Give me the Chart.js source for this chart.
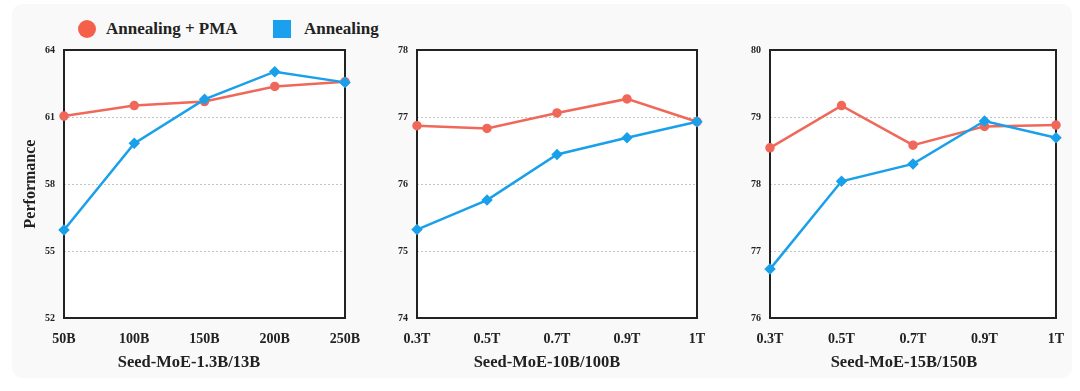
<!DOCTYPE html>
<html><head><meta charset="utf-8">
<script src="https://cdn.jsdelivr.net/npm/chart.js@4.4.1/dist/chart.umd.min.js"></script>
<style>
body{margin:0;width:1080px;height:391px;background:#fff;position:relative;overflow:hidden;font-family:"Liberation Serif",serif;}
.card{position:absolute;left:12px;top:4px;width:1060px;height:374px;background:#f9f9f9;border-radius:10px;}
.c{position:absolute;top:0;height:391px;}
.xt{position:absolute;top:352px;font-weight:bold;font-size:16.5px;color:#222;white-space:nowrap;transform:translateX(-50%);}
.lg{position:absolute;top:19px;font-weight:bold;font-size:17px;color:#222;white-space:nowrap;}
.dot{position:absolute;top:20px;left:78px;width:18px;height:18px;border-radius:50%;background:#f5604c;}
.sq{position:absolute;top:20px;left:273px;width:18px;height:18px;background:#1aa0ee;}
</style></head>
<body>
<div class="card"></div>
<div class="dot"></div><div class="lg" style="left:106px">Annealing + PMA</div>
<div class="sq"></div><div class="lg" style="left:304px">Annealing</div>
<div class="c" style="left:0;width:380px"><canvas id="c1" width="380" height="391"></canvas></div>
<div class="c" style="left:353px;width:379px"><canvas id="c2" width="379" height="391"></canvas></div>
<div class="c" style="left:706px;width:374px"><canvas id="c3" width="374" height="391"></canvas></div>
<div class="xt" style="left:189px">Seed-MoE-1.3B/13B</div>
<div class="xt" style="left:547px">Seed-MoE-10B/100B</div>
<div class="xt" style="left:904px">Seed-MoE-15B/150B</div>
<script>
const seriesNames = ['Annealing + PMA', 'Annealing'];
const cats1 = ['50B','100B','150B','200B','250B'];
const cats2 = ['0.3T','0.5T','0.7T','0.9T','1T'];
const cats3 = ['0.3T','0.5T','0.7T','0.9T','1T'];
const pma1 = [61.04, 61.51, 61.69, 62.37, 62.58];
const ann1 = [55.94, 59.82, 61.79, 63.03, 62.55];
const pma2 = [76.87, 76.83, 77.06, 77.27, 76.93];
const ann2 = [75.32, 75.76, 76.44, 76.69, 76.93];
const pma3 = [78.54, 79.17, 78.58, 78.86, 78.88];
const ann3 = [76.73, 78.04, 78.30, 78.94, 78.69];
const yTicks1 = [52, 55, 58, 61, 64];
const yTicks2 = [74, 75, 76, 77, 78];
const yTicks3 = [76, 77, 78, 79, 80];

const RED = '#f0685a', BLUE = '#1aa0ea';
const FONT = '"Liberation Serif", serif';

const boxPlugin = {
  id: 'box',
  beforeDraw(chart) {
    const a = chart.chartArea, ctx = chart.ctx;
    ctx.save(); ctx.fillStyle = '#ffffff';
    ctx.fillRect(a.left, a.top, a.right - a.left, a.bottom - a.top);
    ctx.restore();
  },
  beforeDatasetsDraw(chart) {
    const a = chart.chartArea, ctx = chart.ctx;
    ctx.save(); ctx.strokeStyle = '#222'; ctx.lineWidth = 2;
    ctx.strokeRect(a.left, a.top, a.right - a.left, a.bottom - a.top);
    ctx.restore();
  }
};

function make(id, cats, pma, ann, yTicks, showYTitle, padRight) {
  const mn = yTicks[0], mx = yTicks[yTicks.length - 1];
  new Chart(document.getElementById(id), {
    type: 'line',
    data: {
      labels: cats,
      datasets: [
        { label: seriesNames[1], data: ann, borderColor: BLUE, backgroundColor: BLUE,
          borderWidth: 2.5, pointStyle: 'rectRot', pointRadius: 4, pointHoverRadius: 4, clip: false, tension: 0 },
        { label: seriesNames[0], data: pma, borderColor: RED, backgroundColor: RED,
          borderWidth: 2.5, pointStyle: 'circle', pointRadius: 3.5, pointHoverRadius: 3.5, clip: false, tension: 0 }
      ]
    },
    options: {
      responsive: false, animation: false,
      layout: { padding: { top: 50, right: padRight, bottom: 0, left: 0 } },
      plugins: { legend: { display: false }, tooltip: { enabled: false } },
      scales: {
        x: {
          offset: false,
          grid: { display: false },
          border: { display: false },
          ticks: { color: '#222', padding: 5, maxRotation: 0, autoSkip: false,
                   font: { family: FONT, size: 14, weight: 'bold' } },
          afterFit(s) { s.height = 73; }
        },
        y: {
          min: mn, max: mx,
          afterBuildTicks(s) { s.ticks = yTicks.map(v => ({ value: v })); },
          grid: { drawTicks: false,
                  color: c => (c.tick && (c.tick.value === mn || c.tick.value === mx)) ? 'rgba(0,0,0,0)' : '#c4c4c4',
                  lineWidth: 1 },
          border: { display: false, dash: [2, 2] },
          ticks: { color: '#222', padding: 9, font: { family: FONT, size: 10, weight: 'bold' } },
          title: { display: showYTitle, text: 'Performance', color: '#222', padding: { top: 21, bottom: 0 },
                   font: { family: FONT, size: 16, weight: 'bold' } },
          afterFit(s) { s.width = 64; }
        }
      }
    },
    plugins: [boxPlugin]
  });
}
make('c1', cats1, pma1, ann1, yTicks1, true, 35);
make('c2', cats2, pma2, ann2, yTicks2, false, 35);
make('c3', cats3, pma3, ann3, yTicks3, false, 24);
</script>
</body></html>
